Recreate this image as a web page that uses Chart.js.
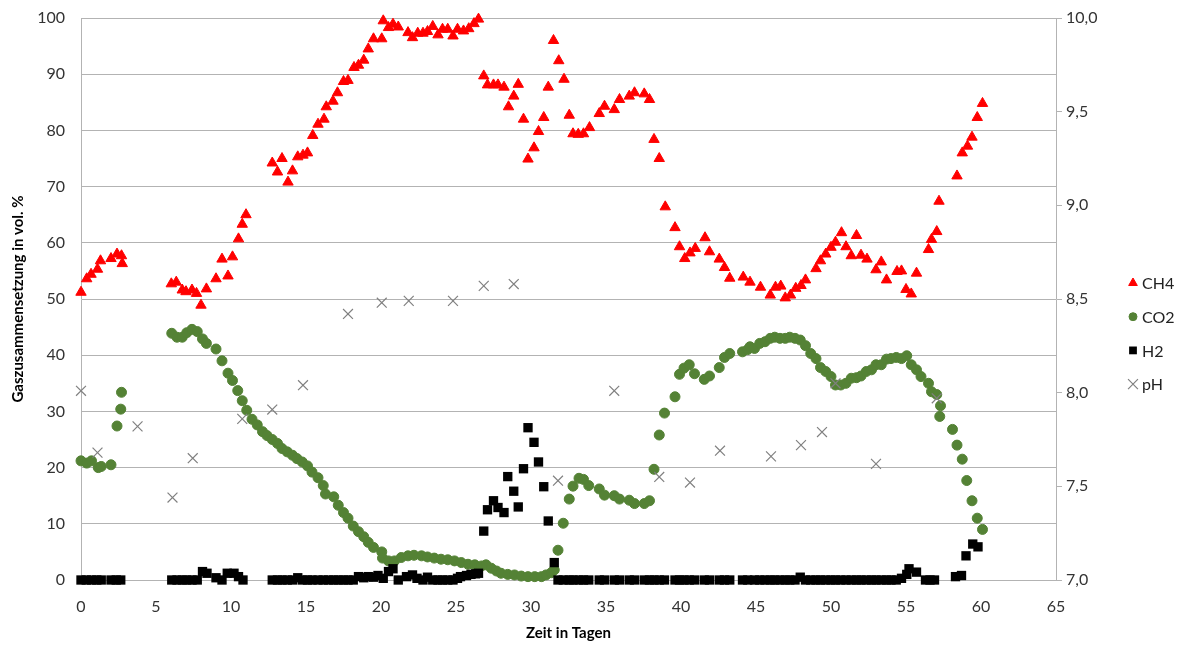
<!DOCTYPE html>
<html lang="de">
<head>
<meta charset="utf-8">
<title>Gaszusammensetzung und pH</title>
<script src="https://cdn.jsdelivr.net/npm/chart.js@4.4.1/dist/chart.umd.min.js"></script>
<style>
  html, body { margin: 0; padding: 0; background: #fff; }
  #wrap { width: 1184px; height: 646px; }
</style>
</head>
<body>
<div id="wrap"><canvas id="chart" width="1184" height="646"></canvas></div>
<script>
const ch4Tage = [0.0, 0.38, 0.67, 1.1, 1.3, 2.0, 2.4, 2.7, 2.75,
  6.02, 6.35, 6.75, 7.0, 7.4, 7.7, 8.0, 8.36, 9.0, 9.4, 9.8, 10.1, 10.5, 10.75, 11.0,
  12.75, 13.1, 13.4, 13.8, 14.1, 14.45, 14.8, 15.1, 15.45, 15.8, 16.2, 16.35, 16.8, 17.1, 17.5, 17.8,
  18.2, 18.5, 18.85, 19.15, 19.5, 20.05, 20.15, 20.5, 20.8, 21.15, 21.8, 22.1, 22.45, 22.8, 23.1,
  23.45, 23.8, 24.1, 24.45, 24.8, 25.1, 25.5, 25.85, 26.2, 26.5, 26.85, 27.1, 27.5, 27.8, 28.2,
  28.5, 28.85, 29.15, 29.5, 29.8, 30.2, 30.5, 30.85, 31.15, 31.5, 31.85, 32.2, 32.55, 32.8, 33.15,
  33.5, 33.9, 34.55, 34.9, 35.55, 35.9, 36.55, 36.9, 37.55, 37.9, 38.2, 38.55, 38.95, 39.6, 39.9,
  40.25, 40.6, 40.95, 41.6, 41.9, 42.55, 42.9, 43.25, 44.15, 44.6, 45.3, 45.95, 46.3, 46.65, 46.95,
  47.3, 47.65, 48.0, 48.3, 49.0, 49.3, 49.65, 50.0, 50.3, 50.7, 51.0, 51.35, 51.7, 52.0, 52.4,
  53.0, 53.35, 53.7, 54.4, 54.7, 55.0, 55.35, 55.7, 56.5, 56.7, 57.05, 57.2, 58.4, 58.75, 59.1,
  59.4, 59.75, 60.1];
const ch4Werte = [51.2, 53.6, 54.4, 55.3, 56.8, 57.2, 58.0, 57.7, 56.3,
  52.7, 53.0, 51.6, 51.3, 51.6, 51.0, 48.9, 51.8, 53.6, 57.1, 54.1, 57.5, 60.7, 63.3, 65.0,
  74.2, 72.6, 75.0, 70.8, 72.8, 75.3, 75.6, 76.0, 79.1, 81.1, 82.0, 84.2, 85.2, 86.7, 88.7, 88.9,
  91.2, 91.6, 92.5, 94.5, 96.3, 96.3, 99.5, 98.3, 98.9, 98.4, 97.4, 96.5, 97.3, 97.3, 97.6,
  98.5, 97.0, 98.0, 98.0, 96.8, 98.0, 97.7, 98.1, 99.0, 99.8, 89.7, 88.1, 88.1, 88.1, 87.7,
  84.2, 86.1, 88.2, 82.0, 74.9, 76.9, 79.8, 82.3, 87.7, 96.0, 92.4, 89.1, 82.7, 79.4, 79.3,
  79.4, 80.5, 83.0, 84.3, 83.7, 85.5, 86.1, 86.7, 86.5, 85.5, 78.4, 75.0, 66.4, 62.7, 59.3,
  57.2, 58.2, 59.0, 60.9, 58.4, 57.1, 55.6, 53.7, 53.9, 53.0, 52.1, 50.7, 52.1, 52.3, 50.2,
  50.7, 51.9, 52.4, 53.4, 55.4, 56.8, 58.0, 59.2, 60.1, 61.8, 59.3, 57.7, 61.3, 57.8, 57.1,
  55.2, 56.6, 53.4, 54.9, 55.0, 51.7, 50.9, 54.6, 58.8, 60.6, 62.0, 67.4, 71.9, 76.0, 77.2,
  78.8, 82.3, 84.8];

const co2Tage = [0.0, 0.38, 0.7, 1.15, 1.35, 2.0, 2.4, 2.65, 2.7,
  6.05, 6.4, 6.75, 7.05, 7.4, 7.75, 8.1, 8.36, 9.0, 9.4, 9.8, 10.1, 10.45, 10.75, 11.05,
  11.4, 11.75, 12.1, 12.4, 12.75, 13.1, 13.4, 13.75, 14.1, 14.4, 14.75, 15.1, 15.4, 15.8, 16.15,
  16.3, 16.85, 17.15, 17.5, 17.8, 18.15, 18.5, 18.85, 19.15, 19.5, 20.05, 20.1, 20.5, 20.9, 21.35,
  21.8, 22.2, 22.7, 23.1, 23.55, 24.0, 24.45, 24.9, 25.35, 25.8, 26.25, 26.7, 27.0, 27.35, 27.7,
  28.0, 28.45, 28.9, 29.35, 29.8, 30.25, 30.7, 31.0, 31.35, 31.55, 31.8, 32.15, 32.55, 32.8, 33.2,
  33.5, 33.85, 34.55, 34.9, 35.55, 35.9, 36.55, 36.9, 37.55, 37.9, 38.2, 38.55, 38.9, 39.6, 39.9,
  40.2, 40.55, 40.9, 41.55, 41.9, 42.55, 42.9, 43.25, 44.1, 44.45, 44.6, 44.9, 45.25, 45.6, 45.95,
  46.25, 46.6, 46.95, 47.25, 47.6, 47.95, 48.3, 48.65, 49.0, 49.3, 49.65, 50.0, 50.3, 50.65, 51.0,
  51.35, 51.7, 52.0, 52.35, 52.7, 53.0, 53.35, 53.7, 54.0, 54.35, 54.7, 55.05, 55.35, 55.7, 56.0,
  56.5, 56.7, 57.05, 57.25, 57.3, 58.1, 58.4, 58.75, 59.05, 59.4, 59.75, 60.1];
const co2Werte = [21.2, 20.8, 21.2, 20.0, 20.2, 20.5, 27.4, 30.4, 33.4,
  43.9, 43.2, 43.2, 44.0, 44.6, 44.2, 42.9, 42.1, 41.1, 39.0, 36.8, 35.5, 33.7, 31.9, 30.2,
  28.6, 27.6, 26.4, 25.7, 25.0, 24.3, 23.4, 22.8, 22.2, 21.6, 21.0, 20.3, 19.2, 18.2, 16.8,
  15.3, 14.8, 13.3, 12.0, 11.0, 9.6, 8.6, 7.7, 6.7, 5.8, 5.0, 3.9, 3.4, 3.4, 4.0,
  4.3, 4.4, 4.3, 4.1, 3.9, 3.7, 3.6, 3.4, 3.1, 2.8, 2.7, 2.5, 2.7, 2.1, 1.6,
  1.2, 1.0, 0.9, 0.7, 0.6, 0.6, 0.6, 0.9, 1.3, 1.8, 5.3, 10.1, 14.4, 16.7, 18.1,
  17.9, 16.8, 16.2, 15.1, 15.0, 14.4, 14.2, 13.6, 13.6, 14.1, 19.7, 25.8, 29.7, 32.6, 36.6,
  37.7, 38.3, 36.7, 35.7, 36.3, 37.8, 39.6, 40.3, 40.6, 41.0, 41.5, 41.2, 42.1, 42.4, 43.0,
  43.2, 43.0, 43.0, 43.2, 43.0, 42.7, 41.7, 40.3, 39.4, 37.8, 37.1, 36.2, 34.7, 34.7, 35.0,
  35.9, 36.0, 36.3, 37.1, 37.4, 38.3, 38.3, 39.3, 39.4, 39.6, 39.4, 39.9, 38.3, 37.4, 36.2,
  35.0, 33.5, 33.0, 29.1, 31.0, 26.8, 24.0, 21.5, 17.7, 14.1, 11.0, 9.0];

const h2Tage = [0.0, 0.35, 0.7, 1.05, 1.35, 2.0, 2.35, 2.65,
  6.05, 6.4, 6.75, 7.05, 7.4, 7.75, 8.1, 8.4, 9.0, 9.4, 9.75, 10.2, 10.5, 10.8,
  12.75, 13.1, 13.4, 13.75, 14.1, 14.45, 14.75, 15.1, 15.4, 15.8, 16.15, 16.5, 16.85, 17.15, 17.5,
  17.8, 18.15, 18.5, 18.85, 19.15, 19.5, 19.8, 20.15, 20.5, 20.8, 21.15, 21.7, 22.1, 22.4, 22.8,
  23.1, 23.45, 23.8, 24.1, 24.45, 24.8, 25.1, 25.3, 25.7, 26.0, 26.3, 26.5, 26.85, 27.1, 27.5,
  27.8, 28.2, 28.45, 28.85, 29.15, 29.5, 29.8, 30.2, 30.5, 30.85, 31.15, 31.55,
  31.8, 32.15, 32.55, 32.8, 33.2, 33.5, 33.85, 34.55, 34.9, 35.55, 35.9, 36.55, 36.9, 37.55, 37.9,
  38.2, 38.55, 38.9, 39.6, 39.9, 40.2, 40.55, 40.9, 41.55, 41.9, 42.55, 42.9, 43.25, 44.1, 44.45,
  44.9, 45.25, 45.6, 45.95, 46.25, 46.6, 46.95, 47.25, 47.6, 47.95, 48.3, 48.65, 49.0, 49.3, 49.65,
  50.0, 50.3, 50.65, 51.0, 51.35, 51.7, 52.0, 52.35, 52.7, 53.0, 53.35, 53.7, 54.0, 54.35, 54.7,
  55.05, 55.2, 55.7, 56.3, 56.6, 56.9, 58.3, 58.7, 59.0, 59.45, 59.8];
const h2Werte = [0, 0, 0, 0, 0, 0, 0, 0,
  0, 0, 0, 0, 0, 0, 1.5, 1.2, 0.4, 0, 1.2, 1.2, 0.6, 0,
  0, 0, 0, 0, 0, 0.4, 0, 0, 0, 0, 0, 0, 0, 0, 0,
  0, 0, 0.6, 0.4, 0.6, 0.5, 0.8, 0.3, 1.5, 2.0, 0, 0.6, 0.9, 0.3, 0,
  0.5, 0, 0, 0, 0, 0, 0.3, 0.6, 0.8, 1.0, 1.1, 1.2, 8.7, 12.5, 14.1,
  12.9, 12.0, 18.4, 15.8, 13.0, 19.8, 27.1, 24.5, 21.0, 16.6, 10.5, 3.1,
  0, 0, 0, 0, 0, 0, 0, 0, 0, 0, 0, 0, 0, 0, 0,
  0, 0, 0, 0, 0, 0, 0, 0, 0, 0, 0, 0, 0, 0, 0,
  0, 0, 0, 0, 0, 0, 0, 0, 0, 0.5, 0, 0, 0, 0, 0,
  0, 0, 0, 0, 0, 0, 0, 0, 0, 0, 0, 0, 0, 0, 0.3,
  1.0, 2.0, 1.4, 0, 0, 0, 0.6, 0.8, 4.3, 6.4, 5.9];

const phTage = [0.0, 1.1, 3.77, 6.1, 7.45, 10.75, 12.75, 14.8, 17.8, 20.05, 21.85, 24.8, 26.85,
  28.85, 31.8, 35.55, 38.55, 40.6, 42.6, 46.0, 48.0, 49.4, 50.3, 53.0, 57.05];
const phWerte = [8.01, 7.68, 7.82, 7.44, 7.65, 7.86, 7.91, 8.04, 8.42, 8.48, 8.49, 8.49, 8.57,
  8.58, 7.53, 8.01, 7.55, 7.52, 7.69, 7.66, 7.72, 7.79, 8.05, 7.62, 7.97];

const xTicks = [0, 5, 10, 15, 20, 25, 30, 35, 40, 45, 50, 55, 60, 65];

function punkte(tage, werte) {
  return tage.map((t, i) => ({ x: t, y: werte[i] }));
}

const fontFamily = 'Lato, "Open Sans", sans-serif';
const gridColor = '#b3b3b3';

// Legende rechts, wie im Original (Marker + Text)
const legendePlugin = {
  id: 'legende',
  afterDraw(chart) {
    const ctx = chart.ctx;
    ctx.save();
    ctx.font = '16px ' + fontFamily;
    ctx.textBaseline = 'middle';
    chart.data.datasets.forEach((ds, i) => {
      const y = 283 + i * 33.7;
      ctx.fillStyle = ds.backgroundColor;
      ctx.strokeStyle = ds.borderColor;
      ctx.lineWidth = ds.borderWidth;
      Chart.helpers.drawPoint(ctx, {
        pointStyle: ds.pointStyle,
        radius: ds.legendRadius,
        rotation: 0,
        borderWidth: ds.borderWidth
      }, 1133, y);
      ctx.fillStyle = '#222';
      ctx.fillText(ds.label, 1142, y + 1);
    });
    ctx.restore();
  }
};

// Achsen mit fester Breite, ohne zusaetzlichen Innenabstand oben/unten
const festeBreite = w => axis => {
  axis.width = w;
  axis.paddingTop = 0;
  axis.paddingBottom = 0;
};

const ctx = document.getElementById('chart').getContext('2d');
new Chart(ctx, {
  type: 'scatter',
  data: {
    datasets: [
      {
        label: 'CH4',
        data: punkte(ch4Tage, ch4Werte),
        yAxisID: 'y',
        pointStyle: 'triangle',
        pointRadius: 6,
        legendRadius: 5,
        backgroundColor: '#ff0000',
        borderColor: '#ff0000',
        borderWidth: 1,
        order: 3,
        clip: false
      },
      {
        label: 'CO2',
        data: punkte(co2Tage, co2Werte),
        yAxisID: 'y',
        pointStyle: 'circle',
        pointRadius: 5,
        legendRadius: 4,
        backgroundColor: '#548235',
        borderColor: '#548235',
        borderWidth: 1,
        order: 2,
        clip: false
      },
      {
        label: 'H2',
        data: punkte(h2Tage, h2Werte),
        yAxisID: 'y',
        pointStyle: 'rect',
        pointRadius: 6.6,
        legendRadius: 5.5,
        backgroundColor: '#000000',
        borderColor: '#000000',
        borderWidth: 0,
        order: 1,
        clip: false
      },
      {
        label: 'pH',
        data: punkte(phTage, phWerte),
        yAxisID: 'y2',
        pointStyle: 'crossRot',
        pointRadius: 7,
        legendRadius: 7,
        backgroundColor: '#808080',
        borderColor: '#808080',
        borderWidth: 1.2,
        order: 0,
        clip: false
      }
    ]
  },
  options: {
    responsive: false,
    animation: false,
    layout: { padding: { top: 18, left: 0, right: 0, bottom: 0 } },
    plugins: {
      legend: { display: false },
      tooltip: { enabled: false }
    },
    scales: {
      x: {
        type: 'linear',
        min: 0,
        max: 65,
        afterBuildTicks: axis => { axis.ticks = xTicks.map(v => ({ value: v })); },
        afterFit: axis => { axis.height = 66; },
        grid: { display: false, drawTicks: false },
        border: { display: true, color: gridColor },
        ticks: { padding: 17, color: '#333', font: { size: 16, family: fontFamily } },
        title: {
          display: true,
          text: 'Zeit in Tagen',
          color: '#000',
          padding: { top: 0, bottom: 4 },
          font: { size: 15, weight: 'bold', family: fontFamily }
        }
      },
      y: {
        position: 'left',
        min: 0,
        max: 100,
        ticks: { stepSize: 10, padding: 16, color: '#333', font: { size: 16, family: fontFamily } },
        afterFit: festeBreite(81),
        grid: { color: gridColor, drawTicks: false },
        border: { display: true, color: gridColor },
        title: {
          display: true,
          text: 'Gaszusammensetzung in vol. %',
          color: '#000',
          padding: { top: 9, bottom: 0 },
          font: { size: 15, weight: 'bold', family: fontFamily }
        }
      },
      y2: {
        position: 'right',
        min: 7,
        max: 10,
        ticks: {
          stepSize: 0.5,
          padding: 4,
          color: '#333',
          font: { size: 16, family: fontFamily },
          callback: v => v.toFixed(1).replace('.', ',')
        },
        afterFit: festeBreite(128),
        grid: { drawOnChartArea: false, drawTicks: true, tickLength: 6, color: gridColor },
        border: { display: true, color: gridColor }
      }
    }
  },
  plugins: [legendePlugin]
});
</script>
</body>
</html>
